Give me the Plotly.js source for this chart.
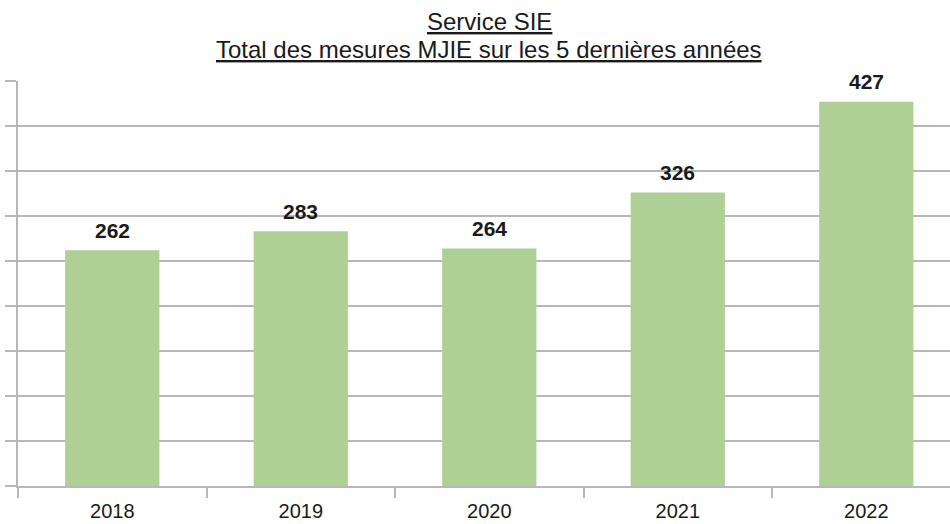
<!DOCTYPE html>
<html>
<head>
<meta charset="utf-8">
<script src="https://cdn.plot.ly/plotly-3.0.1.min.js"></script>
<style>html,body{margin:0;padding:0;background:#fff;}#chart{width:950px;height:524px;}#err{position:absolute;top:0;left:0;color:red;font-size:12px;}</style>
</head>
<body>
<div id="chart"></div>
<div id="err"></div>
<script>
const years = ["2018", "2019", "2020", "2021", "2022"];
const totals = [262, 283, 264, 326, 427];
const titleLine1 = "Service SIE";
const titleLine2 = "Total des mesures MJIE sur les 5 dernières années";

const barColor = "#afd095";
const gridColor = "#b8b8b8";
const fontFamily = "Liberation Sans, Arial, sans-serif";

const trace = {
  type: "bar",
  x: years,
  y: totals,
  width: 0.5,
  marker: {color: barColor},
  hoverinfo: "skip"
};

const labelAnnotations = years.map((yr, i) => ({
  x: i, y: totals[i], xref: "x", yref: "y",
  text: "<b>" + totals[i] + "</b>",
  showarrow: false, yanchor: "middle", yshift: 20,
  font: {family: fontFamily, size: 21, color: "#1a1a1a"}
}));

const titleAnnotations = [
  {x: 2, xref: "x", y: 1.1457, yref: "paper", yanchor: "middle", showarrow: false,
   text: "<u>" + titleLine1 + "</u>", font: {family: fontFamily, size: 24, color: "#1a1a1a"}},
  {x: 2, xref: "x", y: 1.079, yref: "paper", yanchor: "middle", showarrow: false,
   text: "<u>" + titleLine2 + "</u>", font: {family: fontFamily, size: 24, color: "#1a1a1a"}}
];

const layout = {
  width: 950, height: 524,
  margin: {l: 18, r: 0, t: 81, b: 38, autoexpand: false},
  paper_bgcolor: "#ffffff", plot_bgcolor: "#ffffff",
  showlegend: false,
  font: {family: fontFamily, color: "#1a1a1a"},
  xaxis: {
    type: "category",
    range: [-0.5, 4.444],
    tickson: "boundaries",
    ticks: "outside", ticklen: 10, tickwidth: 1.5, tickcolor: gridColor,
    ticklabelstandoff: 6,
    showline: true, linecolor: gridColor, linewidth: 1.5,
    showgrid: false, zeroline: false,
    tickfont: {family: fontFamily, size: 20, color: "#1a1a1a"},
    fixedrange: true
  },
  yaxis: {
    range: [0, 450], dtick: 50, tick0: 0,
    showticklabels: false,
    ticks: "outside", ticklen: 11, tickwidth: 1.5, tickcolor: gridColor,
    showline: true, linecolor: gridColor, linewidth: 1.5,
    showgrid: true, gridcolor: gridColor, gridwidth: 1.5,
    zeroline: false, fixedrange: true
  },
  annotations: labelAnnotations.concat(titleAnnotations)
};

try {
  Plotly.newPlot("chart", [trace], layout, {displayModeBar: false})
    .catch(e => { document.getElementById("err").textContent = "ERR " + e; });
} catch (e) {
  document.getElementById("err").textContent = "ERR " + e;
}
</script>
</body>
</html>
